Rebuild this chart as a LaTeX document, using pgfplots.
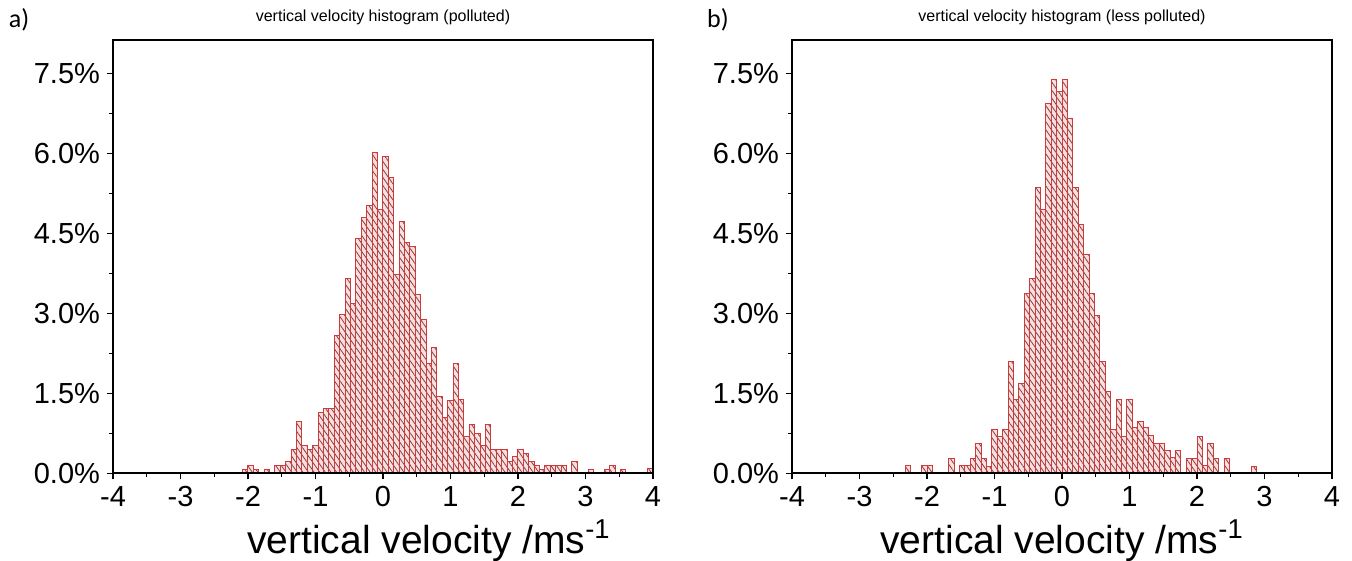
\documentclass[border=0pt]{standalone}
\usepackage{pgfplots}
\pgfplotsset{compat=1.18}
\usepackage{fontspec}
\setmainfont{Liberation Sans}
\newfontfamily\carlito{Carlito}
\usetikzlibrary{patterns.meta}
\definecolor{baredge}{HTML}{D03A3A}
\definecolor{barfill}{HTML}{F8E0E0}
\definecolor{hatch}{HTML}{8C3C3C}
\pgfplotsset{
 hist/.style={
  scale only axis, width=270pt, height=216.65pt,
  xmin=-4,xmax=4,ymin=0,ymax=8.125,
  xtick={-4,...,4}, xticklabels={-4,-3,-2,-1,0,1,2,3,4},
  ytick={0,1.5,3,4.5,6,7.5}, yticklabels={0.0\%,1.5\%,3.0\%,4.5\%,6.0\%,7.5\%},
  minor x tick num=1, minor y tick num=1,
  tick align=outside, xtick pos=bottom, ytick pos=left,
  major tick length=3pt, minor tick length=2pt,
  tick style={black, line width=0.6pt},
  axis line style={line width=0.8pt},
  ticklabel style={font=\fontsize{14.5}{17}\selectfont},
  xlabel={vertical velocity /ms\textsuperscript{-1}},
  xlabel style={font=\fontsize{19.5}{22}\selectfont, at={(0.5,0)}, anchor=base, yshift=-40pt},
  title style={font=\fontsize{8}{9.6}\selectfont, at={(0.5,1)}, anchor=base, yshift=3pt},
  axis on top,
 },
 bars/.style={ybar interval, draw=baredge, line width=0.5pt, fill=barfill,
   postaction={pattern={Lines[angle=-55,distance=2.3pt,line width=0.4pt]}, pattern color=hatch}},
}
\begin{document}
\begin{tikzpicture}
\path[use as bounding box] (-56.5pt,-43.85pt) rectangle (619.5pt,236.65pt);
\begin{axis}[hist, at={(0pt,0pt)}, anchor=south west, title={vertical velocity histogram (polluted)},
  xlabel style={xshift=23pt}]
\addplot[bars] coordinates {
(-2.08,0.08) (-2.00,0.14) (-1.92,0.08) (-1.84,0) (-1.76,0.08) (-1.68,0)
(-1.60,0.14) (-1.52,0.14) (-1.44,0.22) (-1.36,0.45) (-1.28,0.98) (-1.20,0.53)
(-1.12,0.45) (-1.04,0.53) (-0.96,1.14) (-0.88,1.22) (-0.80,1.22) (-0.72,2.58)
(-0.64,2.98) (-0.56,3.66) (-0.48,3.19) (-0.40,4.41) (-0.32,4.80) (-0.24,5.02)
(-0.16,6.02) (-0.08,4.94) (0.00,5.94) (0.08,5.54) (0.16,3.72) (0.24,4.72)
(0.32,4.33) (0.40,4.26) (0.48,3.36) (0.56,2.89) (0.64,2.06) (0.72,2.36)
(0.80,1.44) (0.88,1.05) (0.96,1.36) (1.04,2.06) (1.12,1.38) (1.20,0.69)
(1.28,0.92) (1.36,0.75) (1.44,0.53) (1.52,0.92) (1.60,0.45) (1.68,0.45)
(1.76,0.45) (1.84,0.22) (1.92,0.31) (2.00,0.45) (2.08,0.375) (2.16,0.22)
(2.24,0.14) (2.32,0.08) (2.40,0.14) (2.48,0.14) (2.56,0.14) (2.64,0.14)
(2.72,0) (2.80,0.22) (2.88,0) (2.96,0) (3.04,0.08) (3.12,0) (3.20,0)
(3.28,0.08) (3.36,0.14) (3.44,0) (3.52,0.08) (3.60,0) (3.68,0) (3.76,0)
(3.84,0) (3.92,0.09) (4.00,0)
};
\end{axis}
\begin{axis}[hist, at={(339.5pt,0pt)}, anchor=south west, title={vertical velocity histogram (less polluted)}]
\addplot[bars] coordinates {
(-2.32,0.14) (-2.24,0) (-2.16,0) (-2.08,0.14) (-2.00,0.14) (-1.92,0)
(-1.84,0) (-1.76,0) (-1.68,0.28) (-1.60,0) (-1.52,0.14) (-1.44,0.14)
(-1.36,0.27) (-1.28,0.56) (-1.20,0.27) (-1.12,0.125) (-1.04,0.83) (-0.96,0.69)
(-0.88,0.83) (-0.80,2.10) (-0.72,1.39) (-0.64,1.68) (-0.56,3.38) (-0.48,3.66)
(-0.40,5.36) (-0.32,4.94) (-0.24,6.93) (-0.16,7.38) (-0.08,7.15) (0.00,7.38)
(0.08,6.66) (0.16,5.35) (0.24,4.66) (0.32,4.10) (0.40,3.38) (0.48,2.96)
(0.56,2.10) (0.64,1.53) (0.72,0.83) (0.80,1.39) (0.88,0.69) (0.96,1.39)
(1.04,0.85) (1.12,0.975) (1.20,0.85) (1.28,0.71) (1.36,0.56) (1.44,0.56)
(1.52,0.43) (1.60,0.29) (1.68,0.43) (1.76,0) (1.84,0.28) (1.92,0.28)
(2.00,0.69) (2.08,0.14) (2.16,0.56) (2.24,0.28) (2.32,0) (2.40,0.28)
(2.48,0) (2.56,0) (2.64,0) (2.72,0) (2.80,0.13) (2.88,0)
};
\end{axis}
\node[font=\carlito\fontsize{13}{15}\selectfont, anchor=center] at (-47pt,226.5pt) {a)};
\node[font=\carlito\fontsize{13}{15}\selectfont, anchor=center] at (302.5pt,226.5pt) {b)};
\end{tikzpicture}
\end{document}
